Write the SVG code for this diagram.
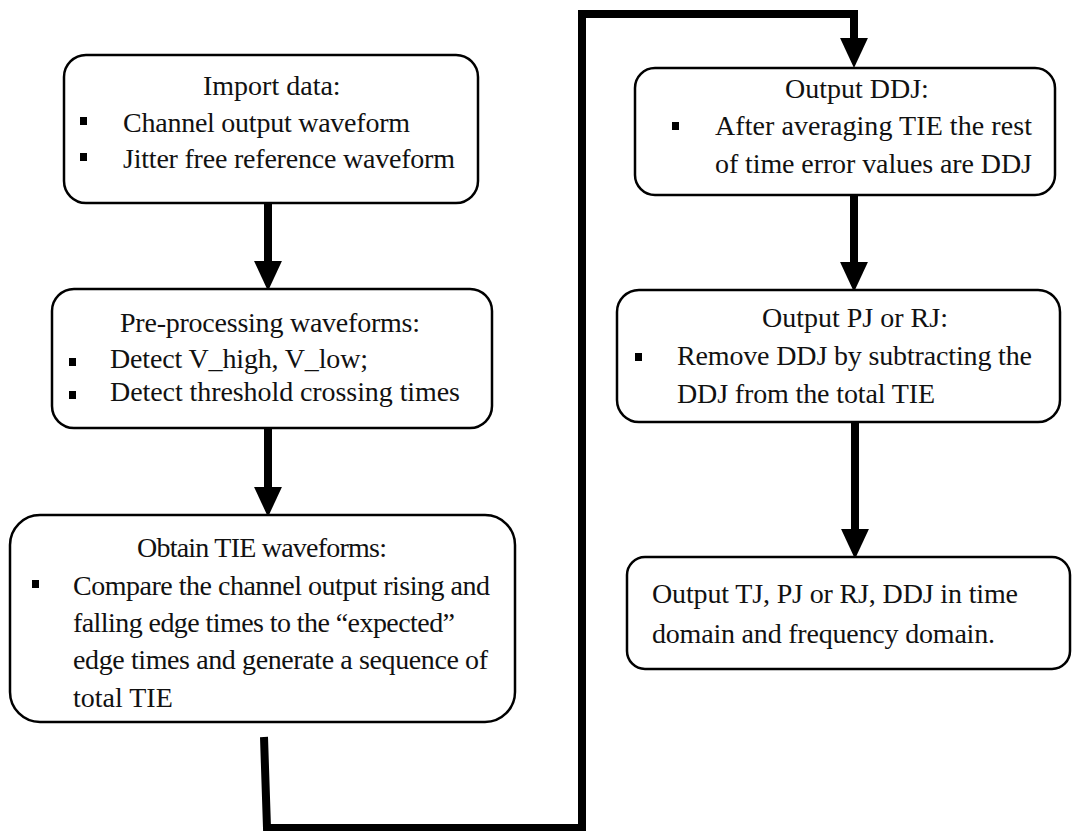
<svg xmlns="http://www.w3.org/2000/svg" width="1073" height="831" viewBox="0 0 1073 831">
<style>
.box{fill:#fff;stroke:#000;stroke-width:2.5}
.t{font-size:28px;fill:#111}
.b{fill:#000}
.conn{fill:none;stroke:#000;stroke-width:8}
</style>
<defs>
<marker id="ah" markerUnits="userSpaceOnUse" markerWidth="30" markerHeight="28" viewBox="0 0 28 26" refX="0" refY="13" orient="auto">
<path d="M0,0 L28,13 L0,26 Z" fill="#000"/>
</marker>
</defs>
<rect width="1073" height="831" fill="#fff"/>
<g id="connectors">
<line class="conn" x1="268" y1="203" x2="268" y2="261" marker-end="url(#ah)"/>
<line class="conn" x1="268" y1="428" x2="268" y2="487" marker-end="url(#ah)"/>
<polyline class="conn" points="264,737 267,828 582,828 582,14 854,14 854,38" marker-end="url(#ah)"/>
<line class="conn" x1="854" y1="195" x2="854" y2="262" marker-end="url(#ah)"/>
<line class="conn" x1="855" y1="422" x2="855" y2="529" marker-end="url(#ah)"/>
</g>
<g font-family="Liberation Serif, serif">
<g id="n1">
<rect class="box" x="64" y="55" width="414" height="148" rx="22"/>
<text class="t" x="203" y="95">Import data:</text>
<rect class="b" x="80" y="117" width="7" height="8"/>
<text class="t" x="123" y="132" textLength="287" lengthAdjust="spacing">Channel output waveform</text>
<rect class="b" x="80" y="153" width="7" height="8"/>
<text class="t" x="123" y="168" textLength="332" lengthAdjust="spacing">Jitter free reference waveform</text>
</g>
<g id="n2">
<rect class="box" x="52" y="289" width="440" height="139" rx="22"/>
<text class="t" x="120" y="332" textLength="300" lengthAdjust="spacing">Pre-processing waveforms:</text>
<rect class="b" x="69" y="358" width="7" height="8"/>
<text class="t" x="110" y="368" textLength="258" lengthAdjust="spacing">Detect V_high, V_low;</text>
<rect class="b" x="69" y="391" width="7" height="8"/>
<text class="t" x="110" y="401" textLength="350" lengthAdjust="spacing">Detect threshold crossing times</text>
</g>
<g id="n3">
<rect class="box" x="10" y="515" width="505" height="207" rx="30"/>
<text class="t" x="137" y="557" textLength="250" lengthAdjust="spacing">Obtain TIE waveforms:</text>
<rect class="b" x="32" y="580" width="7" height="8"/>
<text class="t" x="73" y="595" textLength="417" lengthAdjust="spacing">Compare the channel output rising and</text>
<text class="t" x="73" y="632" textLength="382" lengthAdjust="spacing">falling edge times to the “expected”</text>
<text class="t" x="73" y="669" textLength="415" lengthAdjust="spacing">edge times and generate a sequence of</text>
<text class="t" x="73" y="707">total TIE</text>
</g>
<g id="n4">
<rect class="box" x="635" y="68" width="420" height="127" rx="20"/>
<text class="t" x="785" y="98">Output DDJ:</text>
<rect class="b" x="672" y="122" width="7" height="8"/>
<text class="t" x="715" y="135" textLength="317" lengthAdjust="spacing">After averaging TIE the rest</text>
<text class="t" x="715" y="173" textLength="317" lengthAdjust="spacing">of time error values are DDJ</text>
</g>
<g id="n5">
<rect class="box" x="617" y="290" width="443" height="132" rx="22"/>
<text class="t" x="762" y="327">Output PJ or RJ:</text>
<rect class="b" x="635" y="353" width="7" height="8"/>
<text class="t" x="677" y="365" textLength="355" lengthAdjust="spacing">Remove DDJ by subtracting the</text>
<text class="t" x="677" y="403" textLength="258" lengthAdjust="spacing">DDJ from the total TIE</text>
</g>
<g id="n6">
<rect class="box" x="627" y="557" width="443" height="112" rx="18"/>
<text class="t" x="652" y="603" textLength="366" lengthAdjust="spacing">Output TJ, PJ or RJ, DDJ in time</text>
<text class="t" x="652" y="643" textLength="343" lengthAdjust="spacing">domain and frequency domain.</text>
</g>
</g>
</svg>
